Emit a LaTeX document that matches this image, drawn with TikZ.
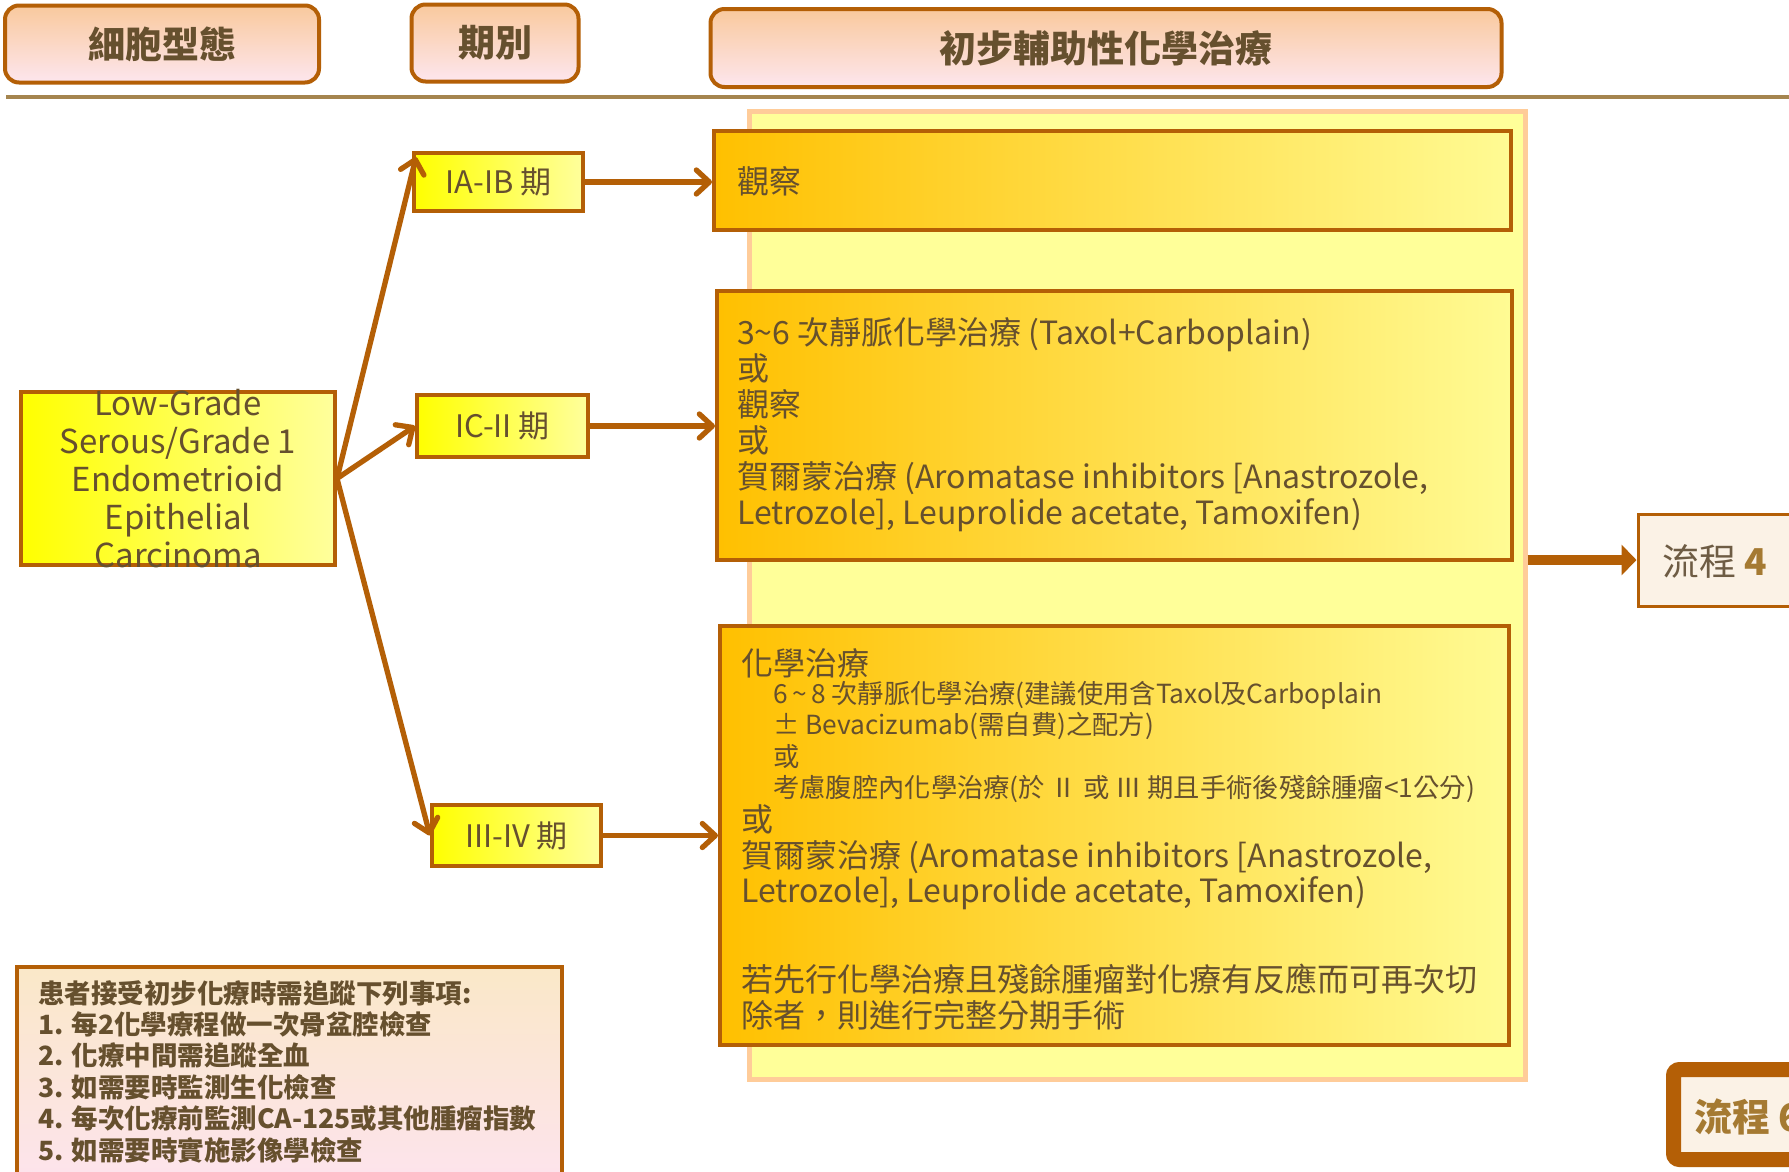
\documentclass[tikz,border=0pt]{standalone}
\usepackage{fontspec}
\setmainfont{Noto Sans CJK TC}
\usetikzlibrary{arrows.meta,calc}
\definecolor{brd}{HTML}{B45F06}
\definecolor{txt}{HTML}{66502E}
\definecolor{hdrtop}{HTML}{F9C99D}
\definecolor{hdrbot}{HTML}{FDE6EE}
\definecolor{rulec}{HTML}{A5854F}
\definecolor{peach}{HTML}{FFCC99}
\definecolor{paleyel}{HTML}{FFFF99}
\definecolor{trL}{HTML}{FFC000}
\definecolor{trR}{HTML}{FFFB94}
\definecolor{stL}{HTML}{FFFF00}
\definecolor{stR}{HTML}{FFFF9C}
\definecolor{noteT}{HTML}{FAE8C8}
\definecolor{noteB}{HTML}{FDE3EE}
\definecolor{cream}{HTML}{FBF2E6}
\definecolor{gold}{HTML}{A57A32}
\definecolor{flowtxt}{HTML}{6E5C44}
\newcommand{\myfs}[2]{\fontsize{#1}{#2}\selectfont}
\begin{document}
\begin{tikzpicture}[x=1pt,y=-1pt,
  hdr/.style={draw=brd, line width=4pt, rounded corners=14pt, top color=hdrtop, bottom color=hdrbot, text=txt, font=\bfseries\myfs{37}{44}, inner sep=0pt},
  treat/.style={draw=brd, line width=4pt, left color=trL, right color=trR, inner sep=0pt},
  stagebox/.style={draw=brd, line width=4pt, left color=stL, right color=stR, inner sep=0pt, text=txt, font=\myfs{31}{36}},
  txtnode/.style={text=txt, inner sep=0pt, align=left, anchor=west},
  arr/.style={draw=brd, line width=5.3pt, -{Straight Barb[length=13pt,width=24pt,round]}},
  bigarr/.style={draw=brd, line width=10pt, -{Triangle[length=15pt,width=30pt]}},
]
\useasboundingbox (0,0) rectangle (1789,1171);
\fill[white] (0,0) rectangle (1789,1171);

% headers
\node[hdr, minimum width=314pt, minimum height=77pt] (h1) at (162,44) {細胞型態};
\node[hdr, minimum width=167pt, minimum height=77pt] (h2) at (495,43) {期別};
\node[hdr, minimum width=791pt, minimum height=78pt] (h3) at (1106,48) {初步輔助性化學治療};
\coordinate (ruleA) at (6,97);
\coordinate (ruleB) at (1800,97);
\draw[rulec, line width=4pt] (ruleA) -- (ruleB);

% background panel
\node[draw=peach, line width=5pt, fill=paleyel, minimum width=776pt, minimum height=968pt, inner sep=0pt] (bg) at (1137,595) {};

% treatment boxes
\node[treat, minimum width=797pt, minimum height=99pt] (obs) at (1112.5,180.5) {};
\node[txtnode, font=\myfs{32}{36}] (obst) at (737,181) {觀察};

\node[treat, minimum width=795pt, minimum height=269pt] (b2) at (1114.5,425.5) {};
\node[txtnode, font=\myfs{32}{36}] (b2t) at (737,425) {3\textasciitilde6 次靜脈化學治療 (Taxol+Carboplain)\\或\\觀察\\或\\賀爾蒙治療 (Aromatase inhibitors [Anastrozole,\\Letrozole], Leuprolide acetate, Tamoxifen)};

\node[treat, minimum width=789pt, minimum height=419pt] (b3) at (1114.5,835.5) {};
\node[txtnode, font=\myfs{32}{36}] (b3a) at (741,663) {化學治療};
\node[txtnode, font=\myfs{26.3}{31.3}] (b3b) at (773,742) {6\,\textasciitilde\,8 次靜脈化學治療(建議使用含Taxol及Carboplain\\± Bevacizumab(需自費)之配方)\\或\\考慮腹腔內化學治療(於 Ⅱ 或 Ⅲ 期且手術後殘餘腫瘤<1公分)};
\node[txtnode, font=\myfs{32}{35.5}] (b3c) at (741,857.5) {或\\賀爾蒙治療 (Aromatase inhibitors [Anastrozole,\\Letrozole], Leuprolide acetate, Tamoxifen)};
\node[txtnode, font=\myfs{32}{36}] (b3d) at (741,997) {若先行化學治療且殘餘腫瘤對化療有反應而可再次切\\除者，則進行完整分期手術};

% left cell type box
\node[stagebox, minimum width=314pt, minimum height=173pt] (L) at (178,478.5) {};
\node[text=txt, inner sep=0pt, align=center, font=\myfs{33}{38}] (Lt) at (L.center) {Low-Grade\\Serous/Grade 1\\Endometrioid\\Epithelial\\Carcinoma};

% stage boxes
\node[stagebox, minimum width=169pt, minimum height=58pt] (s1) at (498.5,182) {IA-IB 期};
\node[stagebox, minimum width=171pt, minimum height=62pt] (s2) at (502.5,426) {IC-II 期};
\node[stagebox, minimum width=169pt, minimum height=61pt] (s3) at (516.5,835.5) {III-IV 期};

% arrows
\coordinate (tip1) at ($(s1.north west)+(4,6)$);
\draw[arr] (L.east) -- (tip1);
\draw[arr] (L.east) -- (s2.west);
\draw[arr] (L.east) -- (s3.west);
\draw[arr] (s1.east) -- (s1.east -| obs.west);
\draw[arr] (s2.east) -- (s2.east -| b2.west);
\draw[arr] (s3.east) -- (s3.east -| b3.west);

% flow 4
\node[draw=brd, line width=3pt, fill=cream, minimum width=170pt, minimum height=92pt, inner sep=0pt] (f4) at (1723,560) {};
\node[inner sep=0pt, anchor=west, font=\myfs{37}{44}] (f4t) at (1662,561) {\textcolor{flowtxt}{流程} \textcolor{gold}{\bfseries 4}};
\draw[bigarr] (bg.east |- f4.west) -- (f4.west);

% flow 6
\node[draw=brd, line width=15pt, rounded corners=6pt, fill=cream, minimum width=160pt, minimum height=90pt, inner sep=0pt] (f6) at (1753.5,1114.5) {};
\node[inner sep=0pt, anchor=west, font=\bfseries\myfs{38}{44}, text=gold] (f6t) at (1694,1117) {流程 6};

% note box
\node[draw=brd, line width=4pt, top color=noteT, bottom color=noteB, minimum width=545pt, minimum height=223pt, inner sep=0pt] (note) at (289.5,1078.5) {};
\node[txtnode, font=\bfseries\myfs{26.5}{31.4}] (notet) at (38,1071.5) {患者接受初步化療時需追蹤下列事項:\\1. 每2化學療程做一次骨盆腔檢查\\2. 化療中間需追蹤全血\\3. 如需要時監測生化檢查\\4. 每次化療前監測CA-125或其他腫瘤指數\\5. 如需要時實施影像學檢查};
\end{tikzpicture}
\end{document}
